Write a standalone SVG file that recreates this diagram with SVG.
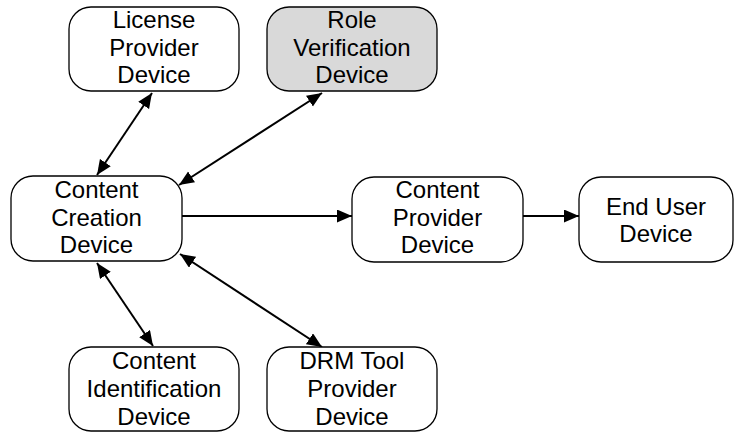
<svg xmlns="http://www.w3.org/2000/svg" width="739" height="433" viewBox="0 0 739 433">
  <style>
    .node { fill: #ffffff; stroke: #000000; stroke-width: 1.3; }
    .node.shaded { fill: #d9d9d9; }
    .label { font-family: "Liberation Sans", Arial, sans-serif; font-size: 24px; fill: #000000; text-anchor: middle; }
    .link { stroke: #000000; stroke-width: 2; fill: none; }
    .one-way { marker-end: url(#head); }
    .two-way { marker-start: url(#head); marker-end: url(#head); }
  </style>
  <defs>
    <marker id="head" markerUnits="userSpaceOnUse" markerWidth="16" markerHeight="14" refX="15" refY="6.5" orient="auto-start-reverse">
      <path d="M0,0 L15,6.5 L0,13 z" fill="#000000"/>
    </marker>
  </defs>

  <rect width="739" height="433" fill="#ffffff"/>

  <g id="connectors">
    <line class="link two-way" x1="152" y1="93" x2="97" y2="175"/>
    <line class="link two-way" x1="322" y1="93" x2="179" y2="185"/>
    <line class="link one-way" x1="182" y1="216" x2="352" y2="216"/>
    <line class="link one-way" x1="523" y1="216" x2="579" y2="216"/>
    <line class="link two-way" x1="97" y1="263" x2="153" y2="346"/>
    <line class="link two-way" x1="180" y1="254" x2="322" y2="347"/>
  </g>

  <g id="license-provider">
    <rect class="node" x="69" y="7" width="170" height="84" rx="22" ry="22"/>
    <text class="label" x="154" y="28">License</text>
    <text class="label" x="154" y="55.5">Provider</text>
    <text class="label" x="154" y="83">Device</text>
  </g>

  <g id="role-verification">
    <rect class="node shaded" x="267" y="7" width="170" height="84" rx="22" ry="22"/>
    <text class="label" x="352" y="28">Role</text>
    <text class="label" x="352" y="55.5">Verification</text>
    <text class="label" x="352" y="83">Device</text>
  </g>

  <g id="content-creation">
    <rect class="node" x="11" y="176" width="171" height="85" rx="22" ry="22"/>
    <text class="label" x="96.5" y="198">Content</text>
    <text class="label" x="96.5" y="225.5">Creation</text>
    <text class="label" x="96.5" y="253">Device</text>
  </g>

  <g id="content-provider">
    <rect class="node" x="352" y="177" width="171" height="85" rx="22" ry="22"/>
    <text class="label" x="437.5" y="198">Content</text>
    <text class="label" x="437.5" y="225.5">Provider</text>
    <text class="label" x="437.5" y="253">Device</text>
  </g>

  <g id="end-user">
    <rect class="node" x="579" y="177" width="154" height="85" rx="22" ry="22"/>
    <text class="label" x="656" y="215">End User</text>
    <text class="label" x="656" y="242">Device</text>
  </g>

  <g id="content-identification">
    <rect class="node" x="69" y="347" width="170" height="84" rx="22" ry="22"/>
    <text class="label" x="154" y="368.5">Content</text>
    <text class="label" x="154" y="396.5">Identification</text>
    <text class="label" x="154" y="425">Device</text>
  </g>

  <g id="drm-tool-provider">
    <rect class="node" x="267" y="347" width="170" height="84" rx="22" ry="22"/>
    <text class="label" x="352" y="368.5">DRM Tool</text>
    <text class="label" x="352" y="396.5">Provider</text>
    <text class="label" x="352" y="425">Device</text>
  </g>
</svg>
